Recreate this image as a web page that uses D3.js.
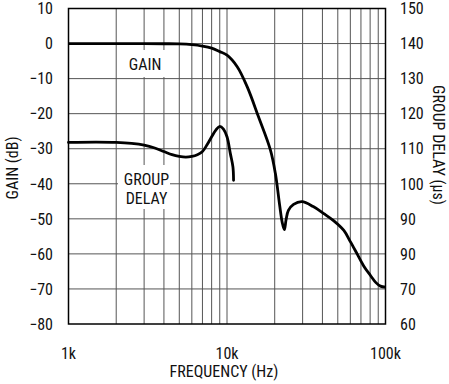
<!DOCTYPE html>
<html><head><meta charset="utf-8">
<script src="https://cdn.jsdelivr.net/npm/d3@7"></script>
<style>
html,body{margin:0;padding:0;background:#fff;}
svg text{font-family:"Liberation Sans Narrow","Arial Narrow","Roboto Condensed",sans-serif;fill:#111;}
</style></head>
<body><svg id="c" width="449" height="384"></svg>
<script>
// ---- data ----
const gainFreq = [1000,2000,3000,4000,5000,6000,7000,8000,9000,10000,11600,13400,15800,18800,20200,21500,22300,23000,23600,24400,26300,29700,35000,40800,47000,54600,60000,66200,73000,80200,87000,92900,100000];
const gainDb   = [0,0,0,-0.05,-0.1,-0.3,-0.7,-1.3,-2.3,-3.3,-6.6,-12.3,-20.9,-30.4,-37.1,-46.2,-51.0,-53.1,-50.2,-47.6,-45.9,-45.1,-46.5,-48.5,-50.5,-53.3,-56.5,-60,-63.5,-66.1,-68.2,-69.2,-69.5];
const delayFreq = [1000,1500,2000,2500,3000,3500,4000,4500,5000,5500,6000,6500,7000,7500,8000,8500,9000,9500,10000,10500,10900,11000];
const delayUs   = [111.8,111.9,111.8,111.5,111.0,110.2,109.2,108.3,107.8,107.6,107.8,108.3,109.2,111.2,113.4,115.3,116.4,115.6,113.4,108.6,104.8,101];
const xTickVals = [1000,10000,100000];
const xTickText = ["1k","10k","100k"];
const gainTicks = [10,0,-10,-20,-30,-40,-50,-60,-70,-80];
const gainTickText = ["10","0","\u221210","\u221220","\u221230","\u221240","\u221250","\u221260","\u221270","\u221280"];
const delayTicks = [150,140,130,120,110,100,90,80,70,60];
const delayTickText = ["150","140","130","120","110","100","90","90","70","60"];
const gridFreqs = [2000,3000,4000,5000,6000,7000,8000,9000,10000,20000,30000,40000,50000,60000,70000,80000,90000];

// ---- scales ----
const L=68.5,R=385.5,T=8.5,B=324;
const x = d3.scaleLog().domain([1000,100000]).range([L,R]);
const yG = d3.scaleLinear().domain([-80,10]).range([B,T]);
const yD = d3.scaleLinear().domain([60,150]).range([B,T]);
const svg = d3.select("#c");

// grid
svg.append("g").selectAll("line").data(gridFreqs).join("line")
  .attr("x1",d=>x(d)).attr("x2",d=>x(d)).attr("y1",T).attr("y2",B)
  .attr("stroke","#555").attr("stroke-width",1);
svg.append("g").selectAll("line").data(gainTicks.slice(1,-1)).join("line")
  .attr("x1",L).attr("x2",R).attr("y1",d=>yG(d)).attr("y2",d=>yG(d))
  .attr("stroke","#555").attr("stroke-width",1);
svg.append("rect").attr("x",L).attr("y",T).attr("width",R-L).attr("height",B-T)
  .attr("fill","none").attr("stroke","#000").attr("stroke-width",1.5);

// axes labels
const fs = 16;
svg.append("g").selectAll("text").data(gainTicks).join("text")
  .attr("x",53).attr("y",d=>yG(d)).attr("dy","0.36em").attr("text-anchor","end")
  .attr("font-size",fs).text((d,i)=>gainTickText[i]);
svg.append("g").selectAll("text").data(delayTicks).join("text")
  .attr("x",400).attr("y",d=>yD(d)).attr("dy","0.36em").attr("text-anchor","start")
  .attr("font-size",fs).text((d,i)=>delayTickText[i]);
svg.append("g").selectAll("text").data(xTickVals).join("text")
  .attr("x",d=>x(d)).attr("y",359).attr("text-anchor","middle")
  .attr("font-size",fs).text((d,i)=>xTickText[i]);
svg.append("text").attr("x",224).attr("y",377).attr("text-anchor","middle")
  .attr("font-size",fs).text("FREQUENCY (Hz)");
svg.append("text").attr("transform","translate(12,168) rotate(-90)").attr("dy","0.36em")
  .attr("text-anchor","middle").attr("font-size",fs).text("GAIN (dB)");
svg.append("text").attr("transform","translate(439,145) rotate(90)").attr("dy","0.36em")
  .attr("text-anchor","middle").attr("font-size",fs).text("GROUP DELAY (\u00b5s)");

// in-plot labels with white boxes
svg.append("rect").attr("x",125).attr("y",50).attr("width",42).attr("height",27).attr("fill","#fff");
svg.append("text").attr("x",145).attr("y",69.5).attr("text-anchor","middle").attr("font-size",fs).text("GAIN");
svg.append("rect").attr("x",118).attr("y",165).attr("width",52).attr("height",44).attr("fill","#fff");
svg.append("text").attr("x",146.5).attr("y",185).attr("text-anchor","middle").attr("font-size",fs).text("GROUP");
svg.append("text").attr("x",146.5).attr("y",203.5).attr("text-anchor","middle").attr("font-size",fs).text("DELAY");

// curves
const gLine = d3.line().x(d=>x(d[0])).y(d=>yG(d[1])).curve(d3.curveCatmullRom.alpha(0.5));
const dLine = d3.line().x(d=>x(d[0])).y(d=>yD(d[1])).curve(d3.curveCatmullRom.alpha(0.5));
svg.append("path").datum(gainFreq.map((f,i)=>[f,gainDb[i]])).attr("d",gLine)
  .attr("fill","none").attr("stroke","#000").attr("stroke-width",2.8).attr("stroke-linejoin","round");
svg.append("path").datum(delayFreq.map((f,i)=>[f,delayUs[i]])).attr("d",dLine)
  .attr("fill","none").attr("stroke","#000").attr("stroke-width",2.8).attr("stroke-linecap","round");
</script></body></html>
